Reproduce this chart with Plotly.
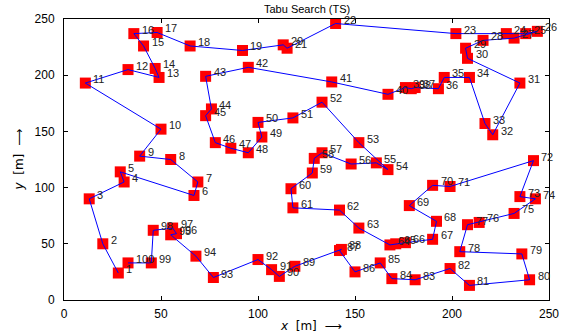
import plotly.graph_objects as go

# visiting order labels 1..100 and node coordinates (m)
labels = [str(i) for i in range(1, 101)]
xs = [28, 20, 13, 31, 29, 67, 69, 55, 39, 50,
      11, 33, 49, 47, 41, 36, 48, 65, 92, 113,
      115, 140, 202, 228, 238, 244, 232, 216, 207, 208,
      235, 221, 217, 209, 196, 193, 181, 179, 176, 167,
      138, 95, 73, 76, 73, 78, 86, 95, 102, 100,
      118, 133, 152, 167, 161, 148, 133, 129, 128, 117,
      118, 142, 152, 168, 171, 176, 190, 192, 178, 190,
      199, 242, 235, 243, 232, 214, 208, 204, 236, 240,
      209, 199, 181, 169, 163, 150, 142, 143, 119, 111,
      107, 100, 77, 68, 55, 58, 56, 46, 45, 33]
ys = [24, 50, 90, 105, 114, 93, 105, 125, 128, 152,
      193, 205, 198, 206, 226, 237, 238, 226, 222, 227,
      224, 246, 237, 237, 237, 239, 233, 231, 224, 215,
      193, 147, 157, 198, 198, 188, 189, 188, 189, 183,
      194, 207, 199, 170, 164, 140, 135, 131, 145, 158,
      162, 176, 140, 116, 122, 121, 131, 126, 113, 99,
      82, 80, 64, 49, 50, 51, 54, 70, 84, 102,
      101, 124, 92, 90, 77, 69, 67, 43, 41, 18,
      13, 28, 18, 19, 33, 25, 44, 45, 30, 21,
      27, 36, 20, 39, 58, 59, 64, 62, 33, 33]
ticks = [0, 50, 100, 150, 200, 250]

fig = go.Figure()
fig.add_trace(go.Scatter(x=xs, y=ys, mode="markers",
                         marker=dict(symbol="square", size=11, color="#ff0000",
                                     line=dict(width=0)),
                         hoverinfo="skip", showlegend=False))
fig.add_trace(go.Scatter(x=xs, y=ys, mode="lines",
                         line=dict(color="#0000ff", width=1),
                         hoverinfo="skip", showlegend=False))

for lx, ly, lt in zip(xs, ys, labels):
    fig.add_annotation(x=lx, y=ly, text=lt, showarrow=False,
                       xanchor="left", yanchor="middle", xshift=6, yshift=4,
                       font=dict(family="Liberation Sans, Arial", size=11, color="#222222"))

axis_common = dict(range=[0, 250], tickvals=ticks, ticktext=[str(t) for t in ticks],
                   showgrid=False, zeroline=False, showline=True, linecolor="black",
                   linewidth=1, mirror="ticks", ticks="inside", ticklen=4,
                   tickcolor="black", tickfont=dict(family="Liberation Sans, Arial",
                                                   size=12, color="black"))
fig.update_xaxes(**axis_common, ticklabelstandoff=3)
fig.update_yaxes(**axis_common, ticklabelstandoff=6)

fig.add_annotation(x=0.5, y=1, xref="paper", yref="paper", yshift=2,
                   text="Tabu Search (TS)", showarrow=False, yanchor="bottom",
                   font=dict(family="Liberation Sans, Arial", size=11, color="black"))
fig.add_annotation(x=0.51, y=0, xref="paper", yref="paper", yshift=-26,
                   text="<i>x</i>  [m]  ⟶", showarrow=False, yanchor="middle",
                   font=dict(family="DejaVu Sans", size=12, color="black"))
fig.add_annotation(x=0, y=0.5, xref="paper", yref="paper", xshift=-46,
                   text="<i>y</i>  [m]  ⟶", showarrow=False, textangle=-90,
                   xanchor="center", yanchor="middle",
                   font=dict(family="DejaVu Sans", size=12, color="black"))

fig.update_layout(width=571, height=336, margin=dict(l=64, r=12, t=18, b=36),
                  paper_bgcolor="white", plot_bgcolor="white")
fig.write_html("out.html")
